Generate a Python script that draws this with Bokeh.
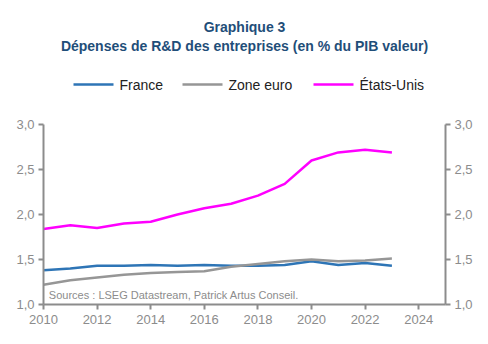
from bokeh.plotting import figure
from bokeh.layouts import column
from bokeh.models import (LinearAxis, Range1d, Label,
                          CustomJSTickFormatter, FixedTicker, ColumnDataSource)
from bokeh.core.properties import value
from bokeh.embed import file_html
from bokeh.resources import INLINE

years = list(range(2010, 2024))
france = [1.38, 1.40, 1.43, 1.43, 1.44, 1.43, 1.44, 1.43, 1.43, 1.44, 1.48, 1.44, 1.46, 1.43]
zone_euro = [1.22, 1.27, 1.30, 1.33, 1.35, 1.36, 1.37, 1.42, 1.45, 1.48, 1.50, 1.48, 1.49, 1.51]
etats_unis = [1.84, 1.88, 1.85, 1.90, 1.92, 2.00, 2.07, 2.12, 2.21, 2.34, 2.60, 2.69, 2.72, 2.69]
series_names = ["France", "Zone euro", "États-Unis"]
x_ticks = [2010, 2012, 2014, 2016, 2018, 2020, 2022, 2024]
y_ticks = [1.0, 1.5, 2.0, 2.5, 3.0]
title_lines = ["Graphique 3", "Dépenses de R&D des entreprises (en % du PIB valeur)"]
source_text = "Sources : LSEG Datastream, Patrick Artus Conseil."

FONT = "Liberation Sans"
GREY = "#8c8c8c"
AXIS = "#8c8c8c"
COLORS = ["#2E75B6", "#969696", "#FF00FF"]
TITLE_COLOR = "#1F4E79"

W = 488
BL, BR = 43, 43

# ---------- header (titles + legend) ----------
HH = 116
h = figure(width=W, height=HH, output_backend="svg", toolbar_location=None,
           x_range=Range1d(BL, W - BR), y_range=Range1d(HH, 0),
           x_axis_location=None, y_axis_location=None,
           min_border_left=BL, min_border_right=BR,
           min_border_top=0, min_border_bottom=0)
h.outline_line_color = None
h.xgrid.visible = False
h.ygrid.visible = False
h.text(x=[W / 2, W / 2], y=[26, 45], text=title_lines, text_font=value(FONT),
       text_font_style="bold", text_font_size="14px", text_color=TITLE_COLOR,
       text_align="center", text_baseline="middle")

# legend (layout positions of the swatches, in header pixels)
leg_x0 = [73, 182, 313]
leg_len = 40
leg_y = 84
h.segment(x0=leg_x0, y0=[leg_y] * 3, x1=[x + leg_len for x in leg_x0], y1=[leg_y] * 3,
          line_color=COLORS, line_width=2.5)
h.text(x=[x + leg_len + 6 for x in leg_x0], y=[leg_y] * 3, text=series_names,
       text_font=value(FONT), text_font_size="14px", text_color="#222222",
       text_align="left", text_baseline="middle")

# ---------- main chart ----------
p = figure(width=W, height=344 - HH, output_backend="svg", toolbar_location=None,
           x_range=Range1d(2010, 2025), y_range=Range1d(1.0, 3.0),
           min_border_left=BL, min_border_right=BR, min_border_top=8,
           min_border_bottom=40)
p.outline_line_color = None
p.xgrid.visible = False
p.ygrid.visible = False

src = ColumnDataSource(dict(x=years, fr=france, ze=zone_euro, us=etats_unis))
for col, c in zip(["fr", "ze", "us"], COLORS):
    p.line("x", col, source=src, line_color=c, line_width=2.5)

fmt = CustomJSTickFormatter(code="return tick.toFixed(1).replace('.', ',');")

def style_axis(ax):
    ax.axis_line_color = AXIS
    ax.axis_line_width = 2
    ax.major_tick_line_color = AXIS
    ax.major_tick_line_width = 2
    ax.major_tick_out = 5
    ax.major_tick_in = 0
    ax.minor_tick_line_color = None
    ax.major_label_text_color = GREY
    ax.major_label_text_font = FONT
    ax.major_label_text_font_size = "13px"

p.yaxis.ticker = FixedTicker(ticks=y_ticks)
p.yaxis.formatter = fmt
style_axis(p.yaxis[0])
p.yaxis.major_label_standoff = 4

ry = LinearAxis(ticker=FixedTicker(ticks=y_ticks), formatter=fmt)
style_axis(ry)
ry.major_label_standoff = 4
p.add_layout(ry, "right")

p.xaxis.ticker = FixedTicker(ticks=x_ticks)
style_axis(p.xaxis[0])
p.xaxis.major_label_standoff = 5

src_lbl = Label(x=2010.2, y=1.11, text=source_text,
                text_font=FONT, text_font_size="11px",
                text_color=GREY, text_baseline="middle")
p.add_layout(src_lbl)

layout = column(h, p, spacing=0)
open("out.html", "w").write(file_html(layout, INLINE))
